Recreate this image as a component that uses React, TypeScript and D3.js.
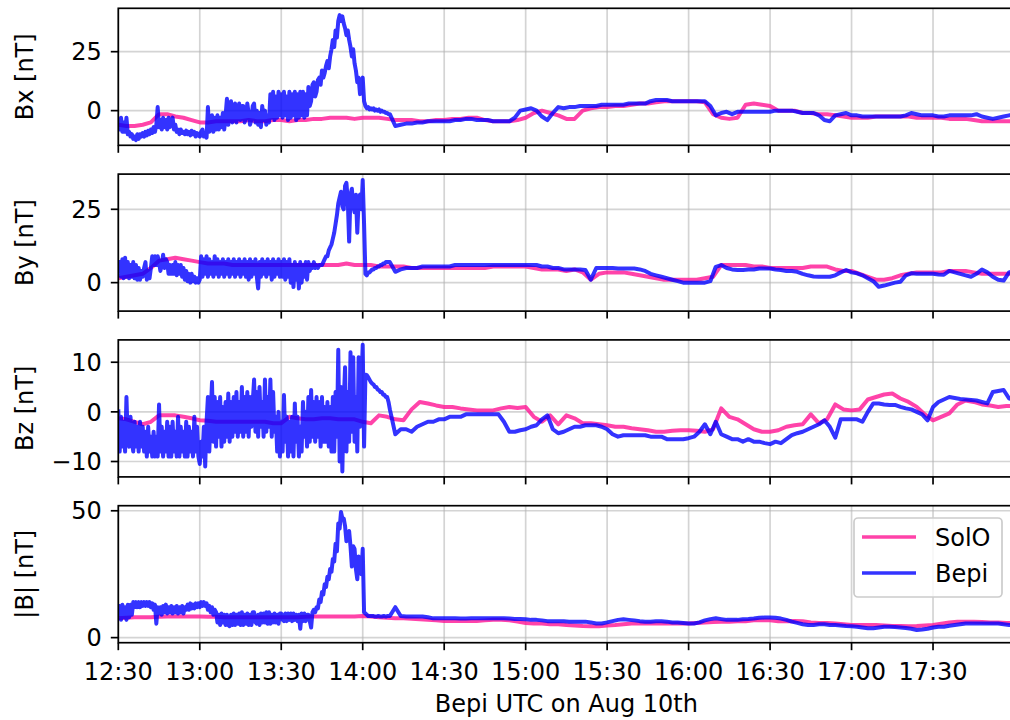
import * as d3 from "d3";

const timeTicks = ["12:30", "13:00", "13:30", "14:00", "14:30", "15:00", "15:30", "16:00", "16:30", "17:00", "17:30"];
const componentLabels = ["Bx [nT]", "By [nT]", "Bz [nT]", "|B| [nT]"];
const valueTicks = [[0, 25], [0, 25], [-10, 0, 10], [0, 50]];
const valueExtents = [[-14.7, 43.4], [-9.7, 37], [-13.1, 14.5], [-2, 52]];
const seriesNames = ["SolO", "Bepi"];
const xTitle = "Bepi UTC on Aug 10th";

// sample times, minutes after 12:30 UTC (Bepi: every 30 s until 14:10, then every 2 min)
const bepiMinutes = [...d3.range(0, 100, 0.5), ...d3.range(100, 331, 2)];
const soloMinutes = d3.range(0, 331, 3);

// ---- Bx ----
const bepiBx = [
  -4, -8, -3, -9, -5, -9, -3, -10, -9, -11, -10, -12, -11, -12.5, -10, -12, -10, -11, -9.5, -11,
  -9, -10.5, -8.5, -10, -8, -9.5, -7, -9, -6, 1.5, -7, -4, -8, -3, -7, -4, -8, -3, -7, -4,
  -3, -8, -6, -9, -8, -10, -8, -9.5, -9, -10, -8.5, -10, -9, -10.5, -8.5, -10, -9, -11, -9.5, -10.5,
  -11, -9, -8, -11, -10, -11.5, 1.5, -9, -8, -2, -9, -3, -8, -2, -8, -3, -7, -1, -8, -2,
  5, -6, 1, 4, -5, 2, 3, -5, 0, 3, -4, 2, 2, -5, -3, 3, -1, -6, -4, 2,
  3, -5, 0, -6, -1, -7, 2, -4, 0, -6, -2, -5, 7, -3, 8, -4, 6, -3, 8, -2,
  7, -3, 8, -2, 6, -4, 8, -3, 7, -2, 8, -4, 7, -3, 8, -2, 8, -3, 7, -2,
  10, 2, 4, 11, 12, 6, 8, 13, 14, 11, 17, 14, 16, 19, 21, 18, 23, 26, 30, 27,
  34, 31, 38, 40.5, 38, 40, 37, 35, 32, 34, 30, 27, 23, 26, 20, 17, 12, 14, 7, 10,
  14, 4, 2, 1, 1.5, 0.5, 1, 0.5, 1, 0, 0.5, 0, 0.5, -0.5, 0, -0.5, -0.5, -1, -1, -1.5,
  // every 2 min from 14:10
  -1.5, -6.5, -6, -5.5, -5.5, -5, -5, -4.5, -4.5, -4.5,
  -4.5, -4.5, -4, -4, -3.5, -3.5, -4, -4, -4, -4.5,
  -4.5, -4.5, -4.5, -3, 0, 0.5, 1, 0, -2.5, -4,
  -1, 1.5, 1, 1.5, 1.5, 2, 2, 2, 2, 2.5,
  2.5, 2.5, 2.5, 2.5, 3, 3, 3, 3, 4, 4.5,
  4.5, 4.5, 4, 4, 4, 4, 4, 4, 4, 2,
  -2, -1, -0.5, -1.5, -0.5, -0.5, -0.5, -0.5, -0.5, -0.5,
  -0.5, 0, 0, 0, 0, -0.5, -1, -1, -1, -2,
  -4, -4.5, -2, -1.5, -1, -2, -2, -2.5, -2.5, -2.5,
  -2.5, -2.5, -2.5, -2.5, -2.5, -2, -1, -1.5, -2, -2,
  -2, -2.5, -2.5, -2, -2, -2, -2, -2, -1.5, -2.5,
  -3, -3.5, -3, -2.5, -2, -2,
];
const soloBx = [
  -6, -6.5, -6.5, -6, -5, -1.5, -1.5, -2.5, -3, -4,
  -5, -5, -4.5, -4.5, -4.5, -4.5, -4, -4.5, -4.5, -4,
  -4, -4.5, -4, -4, -3.5, -3.5, -3, -3, -3, -3.5,
  -3, -3, -3, -3.5, -4, -4, -4, -4.5, -4.5, -4,
  -4, -3.5, -3.5, -3, -3, -4, -4.5, -4.5, -4.5, -4,
  -3, -1, 0, -1, -2, -3.5, -3.5, 0, 1, 1.5,
  1.5, 2, 2, 2.5, 3, 3, 3.5, 4, 4, 4,
  4, 4, 3.5, -1.5, -3, -3.5, -3, 2.5, 3, 2.5,
  2, 0, 0, 0, -1, -1, -1.5, -1.5, -2, -2.5,
  -3, -3, -3, -2.5, -2.5, -2.5, -2.5, -2.5, -3, -3,
  -3, -3, -3.5, -3.5, -3.5, -4, -4.5, -4.5, -4.5, -4.5, -4.5,
];

// ---- By ----
const bepiBy = [
  3, 7, 2, 8, 1.5, 8.5, 2, 7, 1.5, 6, 2, 7, 1.5, 6, 1, 5, 1, 4, 2, 5,
  7, 1, 4, 1.5, 5, 9, 6, 9, 6, 9, 7, 4, 6, 9.5, 5, 8, 7, 3, 6, 3,
  6, 3, 7, 2.5, 6, 3, 6, 2, 5, 1, 4, 0.5, 3, 0, 3, 0.5, 2, 0, 1.5, 0,
  1, 9, 2, 8, 3, 9, 2, 8, 3, 7, 2, 9, 3, 8, 2, 7, 3, 8, 2, 7,
  3, 8, 2, 7, 3, 8, 2, 7, 3, 8, 2, 7, 3, 8, 2, 7, 1, 8, 2, 7,
  3, 8, 2, -2, 7, 2, 8, 3, 7, 2, 8, 3, 7, 1, 8, 2, 7, 3, 8, 2,
  7, 2, 8, 1, 7, 2, 8, 0, 6, -1.5, 7, 1, 6, -2, 7, 0, 6, 2, 7, 1,
  7, 4, 6, 5, 7, 5, 6, 5, 6, 6, 6, 7, 8, 9, 9, 11, 12, 13, 15, 17,
  20, 23, 27, 29, 31, 26, 25, 33, 34, 28, 14, 30, 32, 26, 24, 30, 17, 28, 30, 25,
  35, 20, 3, 2.5, 3.5, 3.5, 4, 4.5, 4.5, 5, 5, 5.5, 5.5, 6, 6, 6.5, 6.5, 7, 7, 7,
  // every 2 min from 14:10
  7, 3.7, 4.5, 5, 5, 5, 5.5, 5.5, 5.5, 5.5,
  5.5, 5.5, 6, 6, 6, 6, 6, 6, 6, 6,
  6, 6, 6, 6, 6, 6, 6, 6, 5.5, 5.5,
  5, 5, 4.5, 4.5, 4.5, 4.5, 4.3, 1, 5, 5,
  5, 5, 4.8, 4.8, 4.8, 4.8, 4.5, 4, 3, 2.5,
  2, 1.5, 1, 0.5, 0, 0, 0, 0, 0, 0.5,
  5.4, 6, 5, 4.5, 4.3, 4.3, 4.5, 4.5, 4.8, 4.8,
  4.8, 4.5, 4.3, 4, 4, 3.7, 3, 2.5, 2.1, 2,
  2, 2, 2.5, 3.5, 4.3, 3.5, 3.2, 2.5, 1.5, 0.5,
  -1.4, -1, -0.5, 0, 0.3, 2.5, 3.2, 3, 3, 3,
  3, 2.8, 2.7, 4, 3.5, 3, 2.5, 2, 3, 4.5,
  3.5, 2, 1, 0.7, 3.5, 4,
];
const soloBy = [
  1.5, 2, 2.5, 3, 5, 7.5, 8, 8.5, 8, 7.5,
  7, 6.5, 6.5, 6.5, 6, 6, 6, 6, 6, 6,
  6, 6, 6, 6, 6, 6, 6, 6, 6.5, 6,
  6, 6, 5.5, 5.5, 5.5, 5.5, 5, 5, 5, 5,
  5, 5, 5, 5, 5, 5, 5.5, 5.5, 5.5, 5.5,
  5.5, 5, 4.5, 4.5, 4.5, 4, 4.5, 3.5, 1, 3,
  3.5, 3.5, 3.5, 3, 2.5, 2, 1.5, 1, 1, 1,
  1, 1, 1.5, 2, 6, 6, 6, 6, 5.5, 5.5,
  5, 5, 5, 5, 5, 5.5, 5.5, 5.5, 4.5, 4,
  4, 3, 2, 1, 1, 1.5, 2.5, 3, 3.5, 3.5,
  3.5, 3.5, 4, 4, 4, 3.5, 3, 3, 3, 3, 3,
];

// ---- Bz ----
const bepiBz = [
  0.5, -8, -1, -7, -2, -8, 3, -6, -7, -1, -6, -8, -2, -7, -3, -8, -2, -7, -3, -8,
  -4, -9, -3, -8, -5, -9, -4, -9, -5, -9, 1.5, -8, -3, -9, -4, -8, -2, -9, -3, -9,
  -2, -8, -4, -9, -1, -9, -3, -8, -4, -9, -2, -9, -3, -8, -4, -9, -1, -8, -3, -9,
  -10.5, -6, -9, -3, -11, -2, 3, -8, -1, 6, -6, 3, -7, 2, -5, 3, -7, 1, -6, 2,
  -5, 3.7, -6, 2, -5, 3, -4, 4, -5, 2, -4, 5, -5, 3, -4, 4, -5, 3, -3, 2,
  6.5, -4, 4, -5, 5, -3, 2, -5, 6.5, -4, 3, -3, 6.5, -5, 4, -4, -1, -8, 0, -9,
  -2, -8, 3.4, -6, -1, -9, -2, -8, -1, -9, 1.7, -6, -1, -9, -3, -8, 2, -5, 0, -7,
  3, -6, 4.4, -5, 2, -6, 3, -5, 2, -7, 3, -6, 1, -6, 2, -7, 1, -8, 3, -8,
  4, -5, 12.5, -10, 5, -12, 2, 9, -8, 4, -6, 12, -4, 11, -6, 3, -8, 11, -3, 6,
  13.5, -7, 7.5, 7.4, 7, 6.5, 6, 5.7, 5.5, 5, 5, 4.5, 4.4, 4, 4, 3.5, 3.4, 3, 3, 2,
  // every 2 min from 14:10
  0.5, -4.5, -3.5, -3.5, -4, -3, -2.5, -2, -2, -1.5,
  -1.5, -1, -1, -1, -0.5, -0.5, -0.5, -0.5, -0.5, -0.5,
  -0.5, -2, -4, -4, -3.7, -3.5, -3, -2.7, -1.5, -0.7,
  -3.5, -4.3, -4, -3.5, -3, -3, -2.7, -2.7, -2.7, -3,
  -3.5, -4.5, -5, -4.7, -4.7, -4.7, -4.7, -4.7, -5, -5,
  -5, -5.5, -5.5, -5.5, -5.5, -5.3, -5, -4, -2.5, -4.5,
  -2, -4.5, -5, -5.5, -5.5, -6, -5.5, -6, -6, -6.3,
  -6.5, -6, -6.3, -5.5, -4.7, -4.3, -4, -3.5, -3, -2.5,
  -1.7, -3, -5.2, -1.5, -1.5, -1.5, -1.5, -2, 0, 1.7,
  1.7, 1.5, 1.4, 1.4, 1, 0.7, 0.5, 0, -0.5, -1.7,
  1, 2, 2.5, 3, 2.8, 2.6, 2.5, 2.4, 2.3, 2,
  1.7, 4, 4.2, 4.4, 2.7, 2.5,
];
const soloBz = [
  -1.3, -1.5, -2, -2.5, -2, -0.7, -0.7, -0.7, -1, -1.3,
  -1.7, -1.8, -2, -2, -2, -2, -2, -2, -2, -2.3,
  -2.3, -1, -1.3, -1.5, -1.5, -1.3, -1.3, -1.5, -1.5, -1.5,
  -2, -2.3, -0.7, -1, -1.5, -1.7, 0.5, 2, 1.7, 1.3,
  1, 1, 0.7, 0.5, 0.3, 0.3, 0.3, 0.7, 1, 0.8,
  1, -1, -2, -0.7, -2.5, -0.7, -1.3, -2.3, -2.3, -2.5,
  -2.7, -3, -3, -3.3, -3.5, -3.7, -4, -4, -3.8, -3.7,
  -3.7, -3.8, -4, -3.5, 0.7, -1, -1.5, -2.5, -3.5, -4,
  -4, -3.7, -3, -2.7, -2.5, -0.5, -2.3, -1.5, 1.5, 0.5,
  0.3, 0.5, 2.5, 3, 3.5, 3.7, 2.7, 2, 1, -0.5,
  -1.7, -1, -0.3, 1.5, 2.3, 2, 1.5, 1.3, 1, 1.2, 1.2,
];

// ---- |B| ----
const bepiB = [
  8, 12.5, 7, 13, 8, 12, 7, 13, 8, 13, 9, 14, 12, 14, 12, 14, 12, 14, 12.5, 14,
  12.5, 14, 12.5, 14, 12, 13.5, 11, 13, 5.5, 12, 9.5, 12, 9, 12.5, 10, 13, 9.5, 12, 10, 12.5,
  9.5, 12, 10, 12.5, 9.5, 12, 10, 12.5, 9.5, 12, 11, 13, 11, 13.5, 11.5, 13, 11.5, 13.5, 12, 13.5,
  12, 14, 12.5, 14, 12.5, 13.5, 11, 12.5, 10, 12, 9, 11, 10, 6, 9, 5, 9.5, 6, 9, 5,
  9, 5, 4.5, 9, 5, 9.5, 5, 9, 5.5, 9.5, 5, 10, 5, 9, 5.5, 9.5, 5, 9, 5, 10,
  10, 6, 5.5, 9, 5, 9.5, 6, 9.5, 6, 10, 5.5, 10, 5.5, 9, 6, 9.5, 6, 9, 5.5, 9.5,
  9.5, 7, 6.5, 9.5, 6.5, 9.5, 7, 9.5, 6.5, 9.5, 7, 9, 6.5, 9, 3.5, 9.5, 6.5, 9.5, 6.5, 9,
  9, 6.5, 4, 10, 11, 10, 12, 11.5, 15, 14, 18, 17, 21, 20, 24, 23, 27, 26, 31, 30,
  37, 34, 45, 43, 49.5, 47, 47, 44, 38, 41, 42, 36, 28, 36, 35, 27, 23, 32, 30, 25,
  35, 10, 9.5, 9, 8.5, 8.5, 8.5, 8.5, 8.5, 8.3, 8.3, 8.5, 8.5, 8.3, 8.3, 8.5, 8.5, 8.3, 8.5, 8.5,
  // every 2 min from 14:10
  8.5, 12, 8.5, 8.3, 8.3, 8.3, 8.3, 8, 7.6, 7.6,
  7.6, 7.6, 7.6, 7.5, 7.5, 7.6, 7.6, 7.6, 7.6, 7.6,
  7.6, 7.6, 7.5, 7.3, 7.3, 7.2, 7, 7, 6.8, 6.5,
  6.5, 6.5, 6.5, 6.3, 6.3, 6.3, 6.3, 6, 5.6, 5.6,
  6, 6.5, 7, 7.2, 7, 6.8, 6.5, 6.3, 6.3, 6.5,
  6.5, 6.3, 6, 6, 5.8, 5.6, 5.6, 6, 6.8, 7.3,
  7.6, 7.3, 7, 7, 7, 7.2, 7.3, 7.5, 7.8, 7.9,
  7.9, 7.8, 7.5, 7, 6.3, 5.8, 5.3, 5, 5, 5.3,
  5.3, 5, 5, 4.8, 4.6, 4.5, 4.3, 4, 3.7, 3.7,
  4, 4.3, 4.3, 4.2, 4, 3.8, 3.5, 3, 3.2, 3.5,
  4, 4.3, 4.3, 4.7, 5, 5.3, 5.6, 5.6, 5.6, 5.6,
  5.6, 5.6, 5.6, 5.3, 5, 5,
];
const soloB = [
  7.6, 7.8, 8, 8, 8, 8.2, 8.3, 8.3, 8.3, 8.3,
  8.3, 8.2, 8.2, 8, 8, 8, 8, 8, 8, 8,
  8, 8, 8, 8.2, 8.3, 8.3, 8.3, 8.3, 8.3, 8.3,
  8.5, 8.3, 8, 7.8, 7.6, 7.6, 7.4, 7.2, 7, 6.8,
  6.6, 6.6, 6.6, 6.6, 6.6, 6.8, 7, 7, 6.8, 6.3,
  5.8, 5.6, 5.6, 5.3, 5.3, 5, 4.8, 4.6, 4.5, 4.5,
  4.8, 5, 5.3, 5.6, 5.6, 5.6, 5.6, 5.6, 5.6, 5.6,
  5.6, 5.8, 6, 6.2, 6.3, 6.3, 6.5, 6.5, 6.8, 6.8,
  6.8, 6.5, 6.5, 6.6, 6.5, 6, 5.8, 5.8, 5.6, 5.3,
  5, 5, 5, 5, 4.8, 4.6, 4.6, 4.5, 4.6, 4.8,
  5, 5.5, 6, 6.3, 6.3, 6.3, 6.2, 6, 6, 5.8, 5.8,
];

const W = 1010;
const H = 720;
const LEFT = 118.3;
const RIGHT = 1014.5;
const TOP = 8.3;
const PH = 137;
const STEP = 165.8;
const FONT = "'DejaVu Sans', sans-serif";
const FS = 24;
const SOLO_COLOR = "#ff1493";
const BEPI_COLOR = "#0000ff";
const GRID = "#b0b0b0";
const LW = 4;

const t0 = Date.UTC(2021, 7, 10, 12, 30);
const toDate = (m: number) => new Date(t0 + m * 60000);
const parseTick = (s: string) => {
  const [h, mm] = s.split(":").map(Number);
  return new Date(Date.UTC(2021, 7, 10, h, mm));
};
const fmtTime = d3.utcFormat("%H:%M");
const fmtVal = (v: number) => (v < 0 ? "\u2212" + Math.abs(v) : String(v));

export default function App() {
  const x = d3.scaleUtc().domain([toDate(0), toDate(330)]).range([LEFT, RIGHT]);
  const ticks = timeTicks.map(parseTick);

  const panels = [
    { solo: soloBx, bepi: bepiBx },
    { solo: soloBy, bepi: bepiBy },
    { solo: soloBz, bepi: bepiBz },
    { solo: soloB, bepi: bepiB },
  ];

  const lastTop = TOP + 3 * STEP;
  const legX = 854;
  const legY = lastTop + 12.3;

  return (
    <svg
      width={W}
      height={H}
      style={{ position: "absolute", left: 0, top: 0, background: "#fff" }}
      fontFamily={FONT}
    >
      <defs>
        {panels.map((_, i) => (
          <clipPath id={`clip${i}`} key={i}>
            <rect x={LEFT} y={TOP + i * STEP} width={RIGHT - LEFT} height={PH} />
          </clipPath>
        ))}
      </defs>
      {panels.map((p, i) => {
        const top = TOP + i * STEP;
        const bottom = top + PH;
        const y = d3.scaleLinear().domain(valueExtents[i]).range([bottom, top]);
        const path = (mins: number[], vals: number[]) =>
          d3
            .line<number>()
            .x((_, k) => x(toDate(mins[k])))
            .y((v) => y(v))(vals) ?? "";
        return (
          <g key={i}>
            {ticks.map((t, k) => (
              <line key={`gx${k}`} x1={x(t)} x2={x(t)} y1={top} y2={bottom}
                stroke={GRID} strokeOpacity={0.55} strokeWidth={1.7} />
            ))}
            {valueTicks[i].map((v) => (
              <line key={`gy${v}`} x1={LEFT} x2={RIGHT} y1={y(v)} y2={y(v)}
                stroke={GRID} strokeOpacity={0.55} strokeWidth={1.7} />
            ))}
            <g clipPath={`url(#clip${i})`}>
              <path d={path(soloMinutes, p.solo)} fill="none" stroke={SOLO_COLOR}
                strokeOpacity={0.8} strokeWidth={LW} strokeLinejoin="round" />
              <path d={path(bepiMinutes, p.bepi)} fill="none" stroke={BEPI_COLOR}
                strokeOpacity={0.8} strokeWidth={LW} strokeLinejoin="round" />
            </g>
            <rect x={LEFT} y={top} width={RIGHT - LEFT} height={PH} fill="none"
              stroke="#000" strokeWidth={1.7} />
            {ticks.map((t, k) => (
              <line key={`tx${k}`} x1={x(t)} x2={x(t)} y1={bottom} y2={bottom + 7.5}
                stroke="#000" strokeWidth={1.7} />
            ))}
            {valueTicks[i].map((v) => (
              <g key={`ty${v}`}>
                <line x1={LEFT - 7.5} x2={LEFT} y1={y(v)} y2={y(v)} stroke="#000" strokeWidth={1.7} />
                <text x={LEFT - 16.5} y={y(v)} dy="0.36em" textAnchor="end" fontSize={FS} fill="#000">
                  {fmtVal(v)}
                </text>
              </g>
            ))}
            <text
              transform={`translate(33,${(top + bottom) / 2}) rotate(-90)`}
              textAnchor="middle"
              fontSize={FS}
              fill="#000"
            >
              {componentLabels[i]}
            </text>
          </g>
        );
      })}
      {ticks.map((t, k) => (
        <text key={`lx${k}`} x={x(t)} y={679.5} textAnchor="middle" fontSize={FS} fill="#000">
          {fmtTime(t)}
        </text>
      ))}
      <text x={(LEFT + RIGHT) / 2} y={712} textAnchor="middle" fontSize={FS} fill="#000">
        {xTitle}
      </text>
      <g>
        <rect x={legX} y={legY} width={148} height={79} rx={4} fill="#fff" fillOpacity={0.8}
          stroke="#cccccc" strokeWidth={1.7} />
        {seriesNames.map((name, k) => {
          const cy = legY + 19 + k * 36;
          return (
            <g key={name}>
              <line x1={legX + 8} x2={legX + 62} y1={cy} y2={cy}
                stroke={k === 0 ? SOLO_COLOR : BEPI_COLOR} strokeOpacity={0.8} strokeWidth={3.5} />
              <text x={legX + 81} y={cy} dy="0.36em" fontSize={FS} fill="#000">
                {name}
              </text>
            </g>
          );
        })}
      </g>
    </svg>
  );
}
